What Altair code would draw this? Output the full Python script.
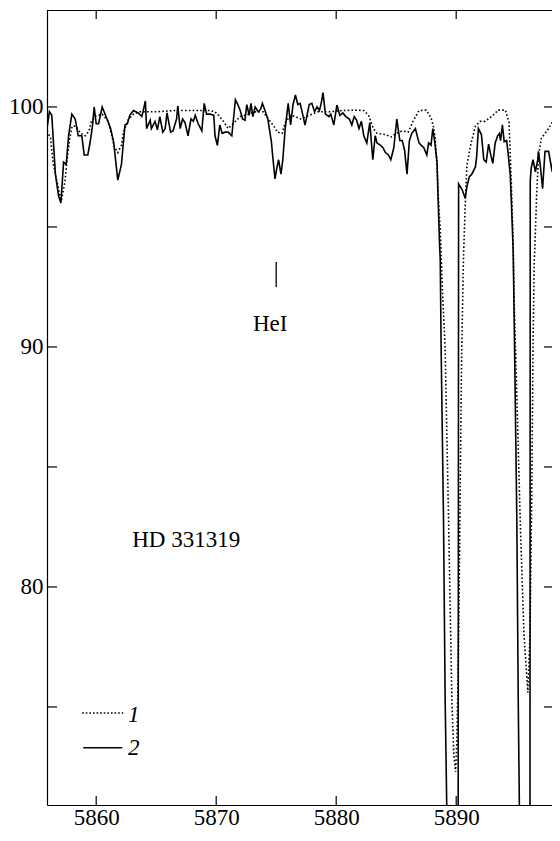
import altair as alt
import pandas as pd

# ---- data ----
solid_lam = [5855.9, 5856.1, 5856.3, 5856.6, 5856.86, 5857.06, 5857.28, 5857.5, 5857.7, 5857.97,
             5858.25, 5858.5, 5858.8, 5859.0, 5859.3, 5859.5, 5859.7, 5859.83, 5860.0, 5860.2,
             5860.5, 5860.9, 5861.2, 5861.45, 5861.8, 5862.1, 5862.4, 5862.6, 5862.8, 5863.1,
             5863.5, 5863.8, 5863.9, 5864.1, 5864.2, 5864.5, 5864.6, 5864.9, 5865.1, 5865.3,
             5865.55, 5865.75, 5865.9, 5866.2, 5866.4, 5866.7, 5866.8, 5867.0, 5867.2, 5867.4,
             5867.65, 5867.9, 5868.1, 5868.25, 5868.5, 5868.8, 5869.0, 5869.2, 5869.5, 5869.8,
             5869.9, 5870.1, 5870.3, 5870.5, 5870.75, 5871.0, 5871.3, 5871.6, 5871.8, 5872.0,
             5872.2, 5872.4, 5872.55, 5872.75, 5872.9, 5873.05, 5873.25, 5873.5, 5873.7, 5873.85,
             5874.1, 5874.3, 5874.6, 5874.7, 5874.9, 5875.05, 5875.2, 5875.4, 5875.55, 5875.75,
             5876.0, 5876.2, 5876.4, 5876.6, 5876.8, 5877.0, 5877.2, 5877.4, 5877.55, 5877.75,
             5877.97, 5878.2, 5878.4, 5878.6, 5878.75, 5878.9, 5879.1, 5879.4, 5879.55, 5879.8,
             5880.06, 5880.3, 5880.55, 5880.8, 5881.1, 5881.3, 5881.5, 5881.7, 5881.9, 5882.1,
             5882.3, 5882.55, 5882.8, 5883.05, 5883.25, 5883.4, 5883.7, 5883.9, 5884.1, 5884.35,
             5884.55, 5884.8, 5885.05, 5885.3, 5885.5, 5885.7, 5885.9, 5886.1, 5886.3, 5886.6,
             5886.9, 5887.1, 5887.3, 5887.55, 5887.7, 5887.9, 5888.05, 5888.2, 5888.4, 5888.5,
             5888.6, 5888.67, 5888.75, 5888.94, 5889.08, 5889.22, 5889.5, 5890.1, 5890.15, 5890.2,
             5890.5, 5890.75, 5890.9, 5891.1, 5891.3, 5891.6, 5891.7, 5891.85, 5892.1, 5892.3,
             5892.5, 5892.7, 5892.9, 5893.05, 5893.25, 5893.45, 5893.6, 5893.7, 5893.85, 5894.0,
             5894.2, 5894.3, 5894.5, 5894.6, 5894.75, 5894.85, 5895.05, 5895.17, 5895.27, 5895.5,
             5896.1, 5896.14, 5896.17, 5896.25, 5896.4, 5896.6, 5896.8, 5896.85, 5897.0, 5897.2,
             5897.4, 5897.7, 5898.0, 5898.1, 5898.4, 5898.6, 5898.7]
solid_val = [99.1, 99.8, 99.65, 97.2, 96.3, 96.0, 97.7, 97.6, 98.8, 99.7,
             99.5, 98.8, 98.8, 98.0, 98.0, 98.55, 99.25, 100.0, 99.3, 99.3,
             100.0, 99.5, 99.1, 98.55, 96.95, 97.6, 99.25, 99.3, 99.65, 99.85,
             99.75, 99.6, 99.8, 100.25, 99.1, 99.45, 99.1, 99.4, 99.05, 99.6,
             98.95, 99.1, 99.75, 98.95, 99.0, 99.5, 100.05, 99.1, 99.5, 99.35,
             98.8, 99.5, 99.4, 99.65, 99.3, 99.0, 100.15, 99.7, 99.7, 99.65,
             98.8, 98.4, 99.25, 98.9, 98.95, 98.95, 98.8, 100.3, 100.1, 99.85,
             99.5, 99.45, 100.1, 99.65, 100.15, 99.6, 100.0, 99.8, 99.9, 100.15,
             99.8, 99.5, 98.55, 98.0, 97.0, 97.45, 97.8, 97.2, 97.8, 99.1,
             100.15, 99.25, 100.1, 100.5, 100.1, 100.15, 99.7, 99.25, 99.6, 100.1,
             100.15, 99.8, 100.0, 99.85, 100.15, 100.6, 99.7, 99.6, 99.7, 99.25,
             100.08, 99.65, 99.75, 99.6, 99.5, 99.25, 99.6, 99.45, 99.1, 99.4,
             98.8, 98.5, 99.35, 97.8, 98.8, 98.5, 98.4, 98.3, 98.1, 98.0,
             97.8, 98.3, 99.5, 98.6, 98.6, 98.2, 97.2, 98.6, 98.9, 99.1,
             98.5, 98.4, 98.3, 98.0, 98.5, 98.4, 99.1, 98.6, 97.7, 96.05,
             94.5, 93.6, 89.75, 82.9, 75.3, 70.6, 55.0, 55.0, 60.0, 96.8,
             96.55, 96.2, 96.7, 97.1, 97.2, 97.5, 97.9, 99.1, 98.85, 97.8,
             97.7, 98.45, 97.95, 97.65, 98.5, 98.8, 98.9, 98.6, 99.25, 98.55,
             98.6, 98.2, 97.2, 96.0, 94.0, 90.5, 82.9, 75.3, 70.6, 55.0,
             55.0, 60.0, 96.9, 97.45, 97.8, 97.3, 97.8, 98.15, 97.6, 96.6,
             98.15, 98.15, 97.3, 98.1, 98.3, 99.1, 99.3]

dotted_lam = [5855.9, 5856.2, 5856.4, 5856.6, 5856.9, 5857.1, 5857.4, 5857.55, 5857.8, 5858.0,
              5858.3, 5858.7, 5859.1, 5859.4, 5859.6, 5859.9, 5860.5, 5861.0, 5861.3, 5861.5,
              5861.8, 5862.1, 5862.3, 5862.7, 5863.1, 5863.6, 5865.0, 5866.5, 5868.0, 5869.5,
              5869.9, 5870.2, 5870.6, 5871.0, 5871.4, 5872.0, 5872.7, 5873.3, 5873.9, 5874.35,
              5874.8, 5875.1, 5875.5, 5875.75, 5876.2, 5876.6, 5877.0, 5877.5, 5878.0, 5878.5,
              5879.5, 5880.5, 5881.5, 5882.3, 5882.7, 5883.1, 5883.4, 5884.1, 5884.6, 5885.0,
              5885.5, 5886.0, 5886.4, 5886.9, 5887.5, 5887.9, 5888.1, 5888.25, 5888.4, 5888.5,
              5888.67, 5888.85, 5889.08, 5889.36, 5889.64, 5889.8, 5889.95, 5890.05, 5890.15, 5890.25,
              5890.35, 5890.45, 5890.6, 5890.75, 5890.9, 5891.2, 5891.6, 5892.0, 5892.4, 5892.95,
              5893.5, 5894.1, 5894.4, 5894.5, 5894.6, 5894.72, 5894.85, 5895.05, 5895.35, 5895.65,
              5895.97, 5896.15, 5896.3, 5896.4, 5896.5, 5896.6, 5896.7, 5896.86, 5897.1, 5897.4,
              5897.7, 5898.0, 5898.4, 5898.7]
dotted_val = [99.0, 98.7, 97.7, 97.2, 96.5, 96.1, 96.9, 97.7, 98.7, 99.2,
              99.2, 98.9, 98.8, 99.0, 99.4, 99.6, 99.7, 99.4, 98.8, 98.35,
              98.1, 98.4, 99.0, 99.5, 99.7, 99.8, 99.8, 99.85, 99.85, 99.85,
              99.8, 99.65, 99.4, 99.1, 99.3, 99.6, 99.7, 99.8, 99.8, 99.5,
              99.2, 98.95, 98.9, 99.35, 99.65, 99.6, 99.5, 99.6, 99.7, 99.8,
              99.8, 99.85, 99.87, 99.85, 99.65, 99.1, 98.9, 98.85, 98.75, 98.9,
              99.0, 98.95, 99.4, 99.85, 99.87, 99.55, 99.2, 98.7, 97.6, 96.3,
              94.9, 92.4, 89.9, 82.9, 75.3, 73.0, 72.3, 73.5, 76.0, 80.0,
              85.0, 89.5, 93.6, 95.9, 97.6, 98.4, 99.2, 99.4, 99.4, 99.6,
              99.87, 99.87, 99.35, 98.1, 96.75, 94.8, 91.5, 88.0, 82.5, 78.0,
              75.6, 78.0, 84.0, 90.0, 93.5, 94.8, 96.3, 98.0, 98.7, 98.9,
              99.1, 99.35, 99.6, 99.8]

x_ticks = [5860, 5870, 5880, 5890]
y_labels = [80, 90, 100]
y_ticks = [75, 80, 85, 90, 95, 100]

center_text = pd.DataFrame({"lam": [5874.5], "val": [90.67], "txt": ["HeI"]})
left_text = pd.DataFrame({"lam": [5863.0], "val": [81.67], "txt": ["HD 331319"]})
marker = pd.DataFrame({"lam": [5875.0], "val": [93.54], "v2": [92.5]})
leg_dot = pd.DataFrame({"lam": [5858.83], "x2": [5862.25], "val": [74.75]})
leg_sol = pd.DataFrame({"lam": [5858.92], "x2": [5862.17], "val": [73.3]})
leg_text = pd.DataFrame({"lam": [5862.65, 5862.65], "val": [74.38, 73.0], "txt": ["1", "2"]})

FONT = "Liberation Serif, Times New Roman, Times, DejaVu Serif, serif"
FS = 23
W, H = 505, 795
PAD_L, PAD_T, PAD_B = 39, 2, 24
Y_TOP = 104.04
xs = alt.Scale(domain=[5855.9, 5855.9 + W / 12.0], nice=False, zero=False)
ys = alt.Scale(domain=[Y_TOP - H / 24.0, Y_TOP], nice=False, zero=False)

solid_df = pd.DataFrame({"lam": solid_lam, "val": solid_val})
dotted_df = pd.DataFrame({"lam": dotted_lam, "val": dotted_val})
yt = pd.DataFrame({"val": y_ticks})
xt = pd.DataFrame({"lam": x_ticks})

xaxis = alt.Axis(values=x_ticks, format="d", ticks=False, grid=False, domain=True,
                 domainColor="black", domainWidth=1.2, labelFont=FONT, labelFontSize=FS,
                 labelColor="black", labelPadding=1, title=None, labelFlush=False)
yaxis = alt.Axis(values=y_labels, format="d", ticks=False, grid=False, domain=True,
                 domainColor="black", domainWidth=1.2, labelFont=FONT, labelFontSize=FS,
                 labelColor="black", labelPadding=4, title=None)

X = alt.X("lam:Q", scale=xs, axis=xaxis, title=None)
Y = alt.Y("val:Q", scale=ys, axis=yaxis, title=None)

dotted = alt.Chart(dotted_df).mark_line(clip=True, color="black", strokeWidth=1.6,
                                         strokeDash=[1.6, 2.2]).encode(x=X, y=Y)
solid = alt.Chart(solid_df).mark_line(clip=True, color="black", strokeWidth=1.6).encode(x=X, y=Y)

# inside ticks on all four sides
left_ticks = alt.Chart(yt).mark_rule(color="black", strokeWidth=1.2).encode(
    y=Y, x=alt.value(0), x2=alt.value(10))
right_ticks = alt.Chart(yt).mark_rule(color="black", strokeWidth=1.2).encode(
    y=Y, x=alt.value(W - 8), x2=alt.value(W))
bottom_ticks = alt.Chart(xt).mark_rule(color="black", strokeWidth=1.2).encode(
    x=X, y=alt.value(H), y2=alt.value(H - 9))
top_ticks = alt.Chart(xt).mark_rule(color="black", strokeWidth=1.2).encode(
    x=X, y=alt.value(0), y2=alt.value(9))
top_border = alt.Chart(xt.head(1)).mark_rule(color="black", strokeWidth=1.2).encode(
    x=alt.value(0), x2=alt.value(W), y=alt.value(0.5))

label_c = alt.Chart(center_text).mark_text(
    font=FONT, fontSize=FS, color="black", align="center", baseline="alphabetic").encode(
    x=X, y=Y, text="txt:N")
label_l = alt.Chart(left_text).mark_text(
    font=FONT, fontSize=FS, color="black", align="left", baseline="alphabetic").encode(
    x=X, y=Y, text="txt:N")
mark_he = alt.Chart(marker).mark_rule(color="black", strokeWidth=1.3).encode(
    x=X, y=Y, y2="v2:Q")

leg1 = alt.Chart(leg_dot).mark_rule(
    color="black", strokeWidth=1.6, strokeDash=[1.6, 2.0]).encode(x=X, x2="x2:Q", y=Y)
leg2 = alt.Chart(leg_sol).mark_rule(color="black", strokeWidth=1.6).encode(x=X, x2="x2:Q", y=Y)
leg_t = alt.Chart(leg_text).mark_text(
    font=FONT, fontSize=FS, fontStyle="italic", color="black", align="left",
    baseline="alphabetic").encode(x=X, y=Y, text="txt:N")

chart = alt.layer(
    dotted, solid, left_ticks, right_ticks, bottom_ticks, top_ticks, top_border,
    label_c, label_l, mark_he, leg1, leg2, leg_t
).properties(
    width=W, height=H,
    autosize=alt.AutoSizeParams(type="none"),
    padding={"left": PAD_L, "top": PAD_T, "right": 0, "bottom": PAD_B},
    background="white",
).configure_view(stroke=None)

chart.save("out.html", embed_options={"renderer": "svg", "actions": False})
